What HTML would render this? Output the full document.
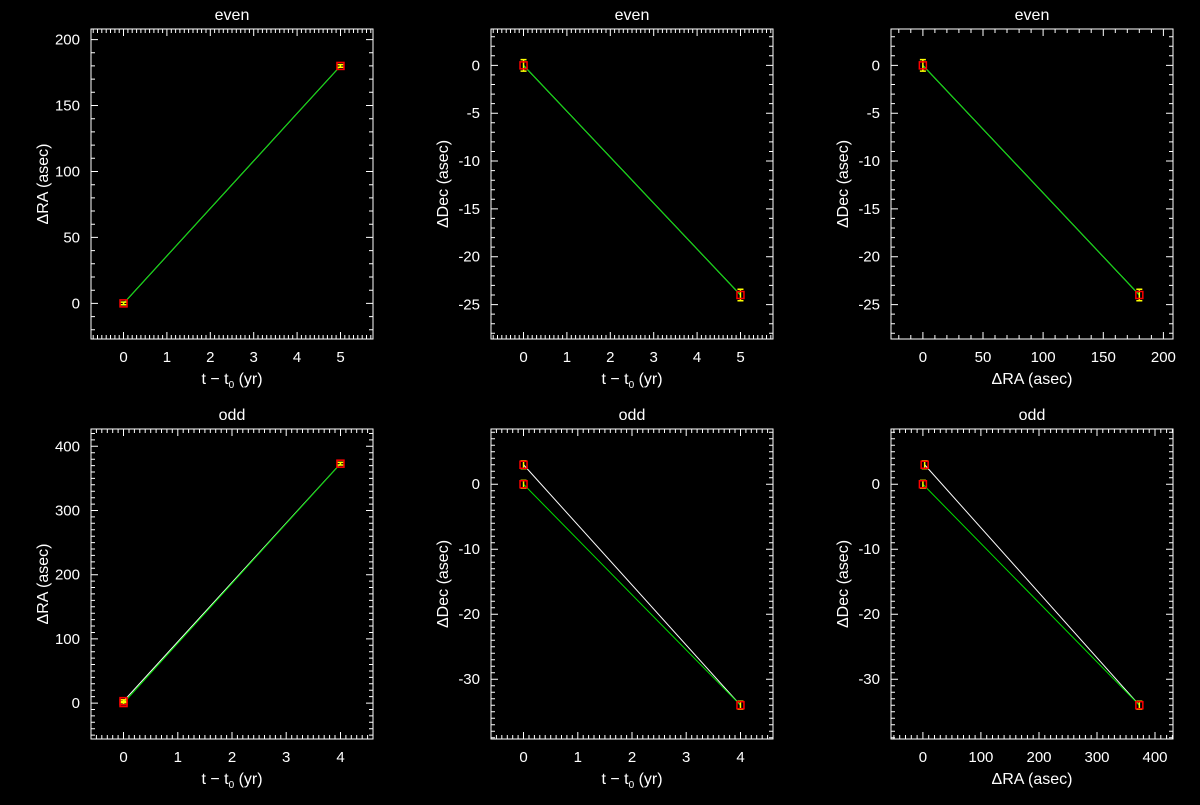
<!DOCTYPE html>
<html><head><meta charset="utf-8"><style>
html,body{margin:0;padding:0;background:#000;}
svg text{font-family:"Liberation Sans","DejaVu Sans",sans-serif;fill:#fff;}
</style></head><body>
<svg id="c" width="1200" height="800" xmlns="http://www.w3.org/2000/svg"></svg>
<script>
// ---- data ----
const panelTitles = ["even","even","even","odd","odd","odd"];
const xLabels = ["t − t0 (yr)","t − t0 (yr)","ΔRA (asec)","t − t0 (yr)","t − t0 (yr)","ΔRA (asec)"];
const yLabels = ["ΔRA (asec)","ΔDec (asec)","ΔDec (asec)","ΔRA (asec)","ΔDec (asec)","ΔDec (asec)"];
const xRanges = [[-0.75,5.75],[-0.75,5.75],[-26.5,208],[-0.6,4.6],[-0.6,4.6],[-55,431]];
const yRanges = [[-27,208],[-28.6,3.8],[-28.6,3.8],[-56,427],[-39.2,8.5],[-39.2,8.5]];
const xMajor = [1,1,50,1,1,100];
const xMinor = [0.1,0.1,10,0.1,0.1,10];
const yMajor = [50,5,5,100,10,10];
const yMinor = [10,1,1,10,1,1];
const evenT = [0,5];
const evenRA = [0,180];
const evenDec = [0,-24];
const evenRAerr = [1,1];
const evenDecErr = [0.6,0.6];
const oddT = [0,0,4];
const oddRA = [0,3,373];
const oddDec = [0,3,-34];
const oddRAerr = [2,2,2];
const oddDecErr = [0.6,0.6,0.6];
const panelSeries = [
  {x:evenT,y:evenRA,e:evenRAerr,white:[0,1],green:[0,1]},
  {x:evenT,y:evenDec,e:evenDecErr,white:[0,1],green:[0,1]},
  {x:evenRA,y:evenDec,e:evenDecErr,white:[0,1],green:[0,1]},
  {x:oddT,y:oddRA,e:oddRAerr,white:[1,2],green:[0,2]},
  {x:oddT,y:oddDec,e:oddDecErr,white:[1,2],green:[0,2]},
  {x:oddRA,y:oddDec,e:oddDecErr,white:[1,2],green:[0,2]}
];
// ---- draw ----
const svg=document.getElementById('c');
const NS="http://www.w3.org/2000/svg";
function mk(tag,attrs,parent){const e=document.createElementNS(NS,tag);for(const k in attrs)e.setAttribute(k,attrs[k]);(parent||svg).appendChild(e);return e;}
function fmt(v){return String(Math.round(v*1000)/1000);}
for(let p=0;p<6;p++){
  const ox=(p%3)*400, oy=Math.floor(p/3)*400;
  const L=ox+91,R=ox+373,T=oy+29,B=oy+339;
  const [x0,x1]=xRanges[p],[y0,y1]=yRanges[p];
  const sx=v=>L+(v-x0)/(x1-x0)*(R-L);
  const sy=v=>B-(v-y0)/(y1-y0)*(B-T);
  const g=mk('g',{});
  
  
  const box=mk('rect',{x:L,y:T,width:R-L,height:B-T,fill:'none',stroke:'#fff','stroke-width':1},g);
  
  
  const tt=mk('text',{x:(L+R)/2,y:oy+20,'text-anchor':'middle','font-size':16},g);
  tt.textContent=panelTitles[p];
  
  
  let d='';
  const nx0=Math.ceil(x0/xMinor[p]-1e-9), nx1=Math.floor(x1/xMinor[p]+1e-9);
  for(let n=nx0;n<=nx1;n++){
    const v=n*xMinor[p];
    const isMaj=Math.abs(v/xMajor[p]-Math.round(v/xMajor[p]))<1e-6;
    const len=isMaj?7:4, X=sx(v).toFixed(1);
    d+=`M${X} ${B}V${B-len}M${X} ${T}V${T+len}`;
    if(isMaj){const t=mk('text',{x:X,y:B+23,'text-anchor':'middle','font-size':15},g);t.textContent=fmt(Math.round(v/xMajor[p])*xMajor[p]);
      }
  }
  const ny0=Math.ceil(y0/yMinor[p]-1e-9), ny1=Math.floor(y1/yMinor[p]+1e-9);
  for(let n=ny0;n<=ny1;n++){
    const v=n*yMinor[p];
    const isMaj=Math.abs(v/yMajor[p]-Math.round(v/yMajor[p]))<1e-6;
    const len=isMaj?7:4, Y=sy(v).toFixed(1);
    d+=`M${L} ${Y}H${L+len}M${R} ${Y}H${R-len}`;
    if(isMaj){const t=mk('text',{x:L-11,y:+Y+5,'text-anchor':'end','font-size':15},g);t.textContent=fmt(Math.round(v/yMajor[p])*yMajor[p]);
      }
  }
  const ticks=mk('path',{d:d,stroke:'#fff','stroke-width':1,fill:'none'},g);
  
  
  const xt=mk('text',{x:(L+R)/2,y:B+45,'text-anchor':'middle','font-size':16},g);
  if(xLabels[p].indexOf('t0')>=0){xt.innerHTML='t − t<tspan font-size="10" dy="4">0</tspan><tspan dy="-4"> (yr)</tspan>';}
  else xt.textContent=xLabels[p];
  
  
  const yt=mk('text',{x:0,y:0,'text-anchor':'middle','font-size':16,transform:`translate(${ox+48},${(T+B)/2}) rotate(-90)`},g);
  yt.textContent=yLabels[p];
  
  
  const s=panelSeries[p];
  const wl=mk('line',{x1:sx(s.x[s.white[0]]),y1:sy(s.y[s.white[0]]),x2:sx(s.x[s.white[1]]),y2:sy(s.y[s.white[1]]),stroke:'#fff','stroke-width':1},g);
  
  
  const gl=mk('line',{x1:sx(s.x[s.green[0]]),y1:sy(s.y[s.green[0]]),x2:sx(s.x[s.green[1]]),y2:sy(s.y[s.green[1]]),stroke:'#00e000','stroke-width':1},g);
  
  
  for(let i=0;i<s.x.length;i++){
    const X=sx(s.x[i]),Y=sy(s.y[i]);
    const ya=sy(s.y[i]+s.e[i]),yb=sy(s.y[i]-s.e[i]);
    const eb=mk('path',{d:`M${X} ${ya}V${yb}M${X-3} ${ya}H${X+3}M${X-3} ${yb}H${X+3}`,stroke:'#ffff00','stroke-width':1.5,fill:'none'},g);
    
    
    const m=mk('rect',{x:X-3.5,y:Y-3.5,width:7,height:7,fill:'none',stroke:'#ff0000','stroke-width':1.5},g);
    
    
  }
}
</script>
</body></html>
